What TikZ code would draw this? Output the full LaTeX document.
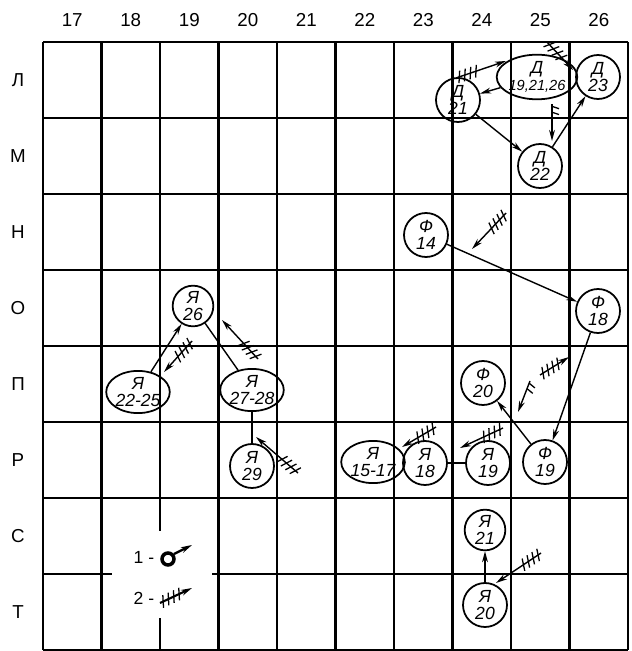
\documentclass[tikz,border=0pt]{standalone}
\usepackage{fontspec}
\setmainfont{Liberation Sans}
\usetikzlibrary{shapes.geometric,decorations.markings,arrows.meta}

\tikzset{
  spot/.style={circle, draw, line width=1.5pt, minimum size=1.32cm, inner sep=0pt,
    align=center, font=\itshape\fontsize{15}{15}\selectfont},
  patch/.style={ellipse, draw, line width=1.5pt, inner sep=0pt,
    align=center, font=\itshape\fontsize{15}{15}\selectfont},
  move/.style={->, line width=1.2pt},
  hatched/.style={move, postaction={decorate}, decoration={markings,
    mark=between positions 3pt and 18pt step 5pt with {\draw[-, line width=1.1pt] (-2pt,-5pt) -- (2pt,5pt);}}},
  halfhatched/.style={move, postaction={decorate}, decoration={markings,
    mark=between positions 2pt and 8pt step 5pt with {\draw[-, line width=1.1pt] (0,0) -- (2pt,6pt);}}},
  gridline/.style={line width=1.9pt},
  axislabel/.style={font=\fontsize{16}{16}\selectfont}
}

\begin{document}
\begin{tikzpicture}[>={Stealth[length=9.5pt,width=5pt]}, x=0.03cm, y=-0.03cm]
  \useasboundingbox (0,0) rectangle (631,651);
  % ---- grid of squares ----
  \foreach \i in {0,...,10}
    \draw[gridline] ({43+58.5*\i},42) -- ({43+58.5*\i},650);
  \foreach \j in {0,...,8}
    \draw[gridline] (43,{42+76*\j}) -- (628,{42+76*\j});
  \foreach \c [count=\i from 0] in {17,...,26}
    \node[axislabel] at ({43+58.5*(\i+0.5)},20) {\c};
  \foreach \r [count=\j from 0] in {Л,М,Н,О,П,Р,С,Т}
    \node[axislabel] at (18,{42+76*(\j+0.5)}) {\r};

  % ---- legend ----
  \fill[white] (112,531) rectangle (212,618);
  \node[font=\fontsize{15}{15}\selectfont] (key1) at (144,557) {1 -};
  \draw[line width=3pt] (168,559) circle (6);
  \draw[->, line width=2pt] (174,554) -- (192,545);
  \node[font=\fontsize{15}{15}\selectfont] (key2) at (144,598) {2 -};
  \draw[hatched, line width=1.8pt] (160,603) -- (192,588);

  % ---- Д ----
  \node[patch, minimum width=1.65cm, minimum height=1.22cm] (d1) at (537,77)
    {Д\\{\fontsize{12.5}{12.5}\selectfont 19,21,26}};
  \node[spot] (d2) at (458,100) {Д\\21};
  \node[spot] (d3) at (540,166) {Д\\22};
  \node[spot] (d4) at (598,77) {Д\\23};
  \draw[move] (d1) -- (d2);
  \draw[move] (d2) -- (d3);
  \draw[move] (d3) -- (d4);
  \draw[hatched] (456,78) -- (506,61);
  \draw[hatched] (547,42) -- (573,70);
  \draw[halfhatched] (552,104) -- (552,141);

  % ---- Ф ----
  \node[spot] (f1) at (426,235) {Ф\\14};
  \node[spot] (f2) at (598,311) {Ф\\18};
  \node[spot] (f3) at (483,383) {Ф\\20};
  \node[spot] (f4) at (545,462) {Ф\\19};
  \draw[move] (f1) -- (f2);
  \draw[move] (f2) -- (f4);
  \draw[move] (f4) -- (f3);
  \draw[hatched] (506,213) -- (472,249);
  \draw[hatched] (540,375) -- (569,357);
  \draw[halfhatched] (530,381) -- (518,412);

  % ---- Я, row Р ----
  \node[patch, minimum width=1.45cm, minimum height=1.15cm] (y1) at (373,462) {Я\\15-17};
  \node[spot] (y2) at (425,463) {Я\\18};
  \node[spot] (y3) at (488,463) {Я\\19};
  \draw[line width=1.2pt] (y3) -- (y2);
  \draw[line width=1.2pt] (y2) -- (y1);
  \draw[hatched] (503,428) -- (460,448);
  \draw[hatched] (436,427) -- (402,447);

  % ---- Я, left ----
  \node[spot, minimum size=1.22cm] (y4) at (193,306) {Я\\26};
  \node[patch, minimum width=1.83cm, minimum height=1.17cm] (y5) at (138,392) {Я\\22-25};
  \node[patch, minimum width=1.83cm, minimum height=1.12cm] (y6) at (252,390) {Я\\27-28};
  \node[spot] (y7) at (252,466) {Я\\29};
  \draw[move] (y5) -- (y4);
  \draw[line width=1.2pt] (y4) -- (y6);
  \draw[line width=1.2pt] (y6) -- (y7);
  \draw[hatched] (192,341) -- (164,372);
  \draw[hatched] (258,359) -- (222,320);
  \draw[hatched] (298,473) -- (256,437);

  % ---- Я, bottom ----
  \node[spot, minimum size=1.22cm] (y8) at (485,530) {Я\\21};
  \node[spot] (y9) at (485,605) {Я\\20};
  \draw[move] (y9) -- (y8);
  \draw[hatched] (541,553) -- (496,583);
\end{tikzpicture}
\end{document}
